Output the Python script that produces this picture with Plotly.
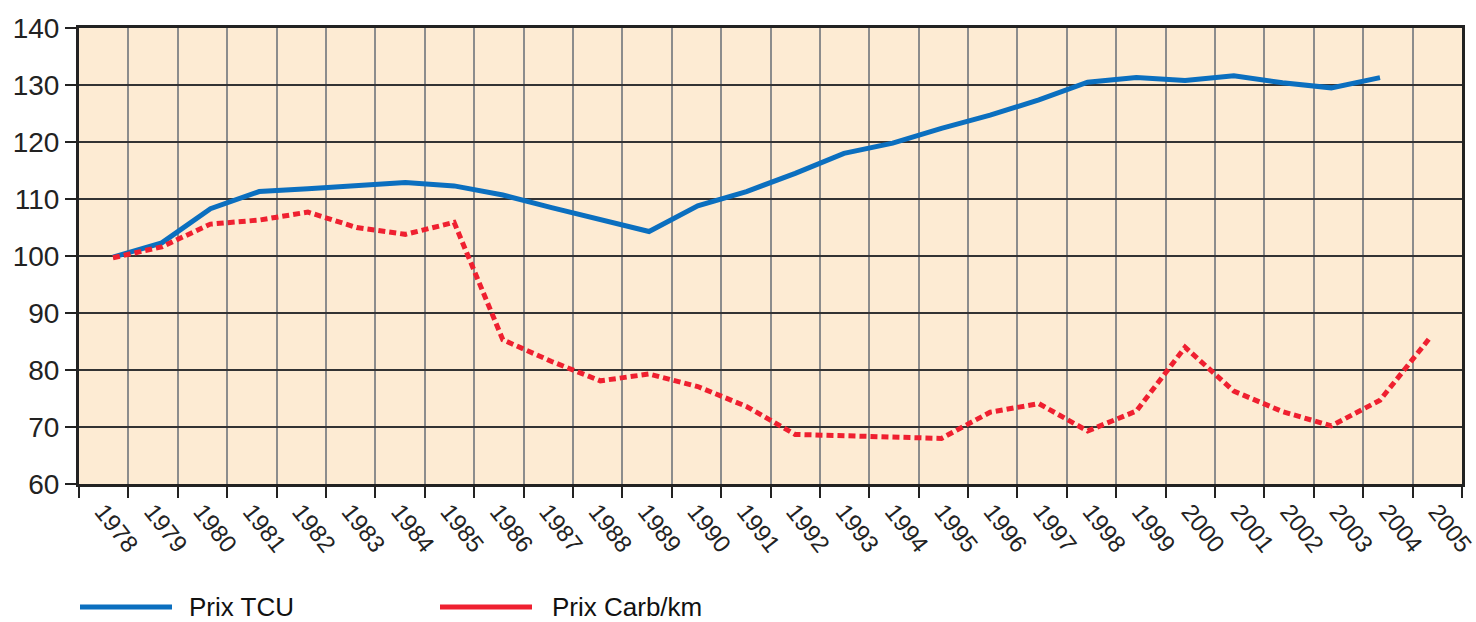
import plotly.graph_objects as go
import numpy as np

years = list(range(1978, 2006))
tick_labels = [str(y) for y in years]

tcu_years = list(range(1978, 2005))
prix_tcu = [99.8, 102.3, 108.3, 111.3, 111.8, 112.4, 112.9, 112.3, 110.7, 108.5,
            106.3, 104.3, 108.8, 111.3, 114.5, 118.0, 119.8, 122.4, 124.7, 127.4,
            130.5, 131.3, 130.8, 131.6, 130.4, 129.5, 131.3]

carb_years = list(range(1978, 2006))
prix_carb = [99.7, 101.6, 105.6, 106.3, 107.7, 105.0, 103.8, 105.9, 85.3, 81.5,
             78.1, 79.3, 77.1, 73.6, 68.7, 68.4, 68.3, 68.0, 72.6, 74.1,
             69.3, 72.8, 84.0, 76.3, 72.7, 70.2, 74.7, 85.4]

BLUE = "#0b6fbf"
RED = "#ef2030"

# plot area geometry (pixels)
W, H = 1476, 622
L, R, T, B = 79, 1462, 28, 484
px_per_year = (1380 - 113) / 26.0
x0 = 1978 - (113 - L) / px_per_year
x1 = 1978 + (R - 113) / px_per_year
grid_x = list(np.linspace(x0, x1, 29))

fig = go.Figure()
fig.add_trace(go.Scatter(x=tcu_years, y=prix_tcu, mode="lines", name="Prix TCU",
                         line=dict(color=BLUE, width=5), showlegend=False))
fig.add_trace(go.Scatter(x=carb_years, y=prix_carb, mode="lines", name="Prix Carb/km",
                         line=dict(color=RED, width=5, dash="7px,4px"), showlegend=False))

fig.update_layout(
    width=W, height=H,
    margin=dict(l=L, r=W - R, t=T, b=H - B, autoexpand=False),
    paper_bgcolor="white",
    plot_bgcolor="#fdebd3",
    font=dict(family="Liberation Sans, Arial, sans-serif", color="#222222"),
)
fig.update_xaxes(
    range=[x0, x1], tickmode="array", tickvals=grid_x,
    ticktext=tick_labels + [""], tickangle=52,
    tickfont=dict(size=24, color="#222222"),
    showgrid=True, gridcolor="#8c8c8c", gridwidth=2,
    showline=True, linecolor="#222222", linewidth=3, mirror=True,
    ticks="outside", ticklen=11, tickwidth=2, tickcolor="#222222",
    zeroline=False, automargin=False,
)
try:
    fig.update_xaxes(ticklabeloverflow="allow")
except Exception:
    pass
try:
    fig.update_xaxes(ticklabelshift=24, ticklabelstandoff=-10)
except Exception:
    try:
        fig.update_xaxes(ticklabelshift=24)
    except Exception:
        pass

fig.update_yaxes(
    range=[60, 140], tickmode="array", tickvals=list(range(60, 141, 10)),
    tickfont=dict(size=28, color="#222222"),
    showgrid=True, gridcolor="#333333", gridwidth=2,
    showline=True, linecolor="#222222", linewidth=3, mirror=True,
    ticks="outside", ticklen=11, tickwidth=2, tickcolor="#222222",
    zeroline=False, automargin=False,
)

def px2x(px):
    return (px - L) / (R - L)

def py2y(py):
    return (B - py) / (B - T)

legend_items = [("Prix TCU", BLUE, 80, 172, 187), ("Prix Carb/km", RED, 440, 532, 550)]
for label, color, lx0, lx1, tx in legend_items:
    fig.add_shape(type="line", xref="paper", yref="paper",
                  x0=px2x(lx0), x1=px2x(lx1), y0=py2y(607), y1=py2y(607),
                  line=dict(color=color, width=5))
    fig.add_annotation(xref="paper", yref="paper", x=px2x(tx), y=py2y(607),
                       text=label, showarrow=False, xanchor="left", yanchor="middle",
                       font=dict(family="Liberation Sans, Arial, sans-serif",
                                 size=26, color="#111111"))

fig.write_html("out.html", config={"displayModeBar": False},
               post_script="document.body.style.margin='0';document.body.style.padding='0';")
